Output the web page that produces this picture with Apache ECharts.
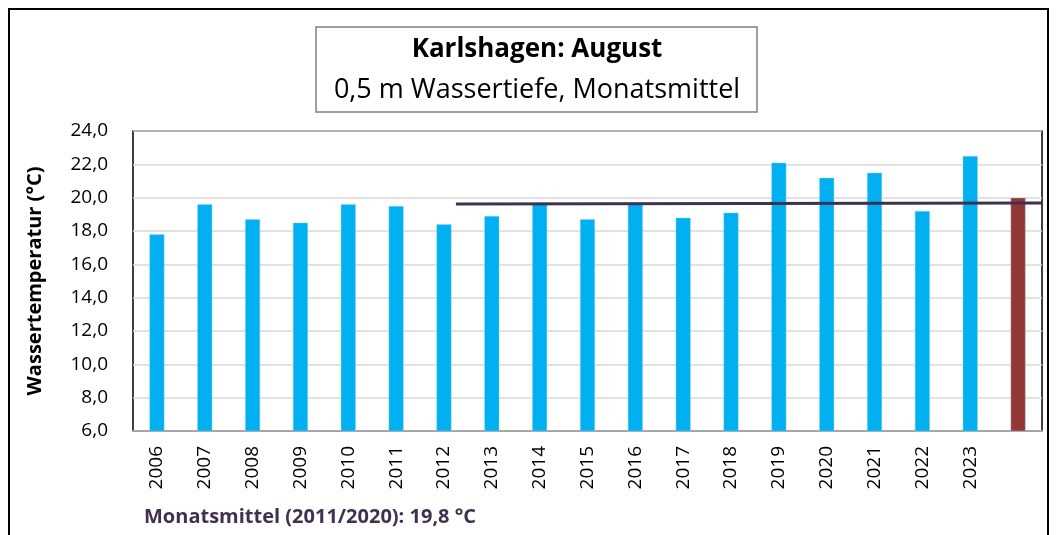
<!DOCTYPE html>
<html>
<head>
	<meta charset="utf-8">
	<title>Karlshagen August</title>
	<script src="https://cdn.jsdelivr.net/npm/echarts@6/dist/echarts.min.js"></script>
	<style>
		body { margin: 0; background: #fff; }
		#chart { width: 1056px; height: 535px; }
	</style>
</head>
<body>
	<div id="chart"></div>
	<script type="text/javascript">
	// Jahre und Monatsmittel der Wassertemperatur (0,5 m)
	var years = ['2006','2007','2008','2009','2010','2011','2012','2013','2014','2015',
		'2016','2017','2018','2019','2020','2021','2022','2023',''];
	var temps = [17.8, 19.6, 18.7, 18.5, 19.6, 19.5, 18.4, 18.9, 19.7, 18.7,
		19.6, 18.8, 19.1, 22.1, 21.2, 21.5, 19.2, 22.5, 20.0];
	// Mittelwertlinie (x in Kategorie-Index, y in °C)
	var meanLine = [[6.25, 19.62], [18.5, 19.68]];
	var yTicks = { min: 6, max: 24, step: 2 };

	var font = '"Open Sans", "Noto Sans", sans-serif';
	var chart = echarts.init(document.getElementById('chart'));

	var barData = temps.map(function (v, i) {
		return {
			value: v,
			itemStyle: { color: i === temps.length - 1 ? '#953735' : '#00B0F0' }
		};
	});

	chart.setOption({
		animation: false,
		graphic: [
			{ type: 'rect', shape: { x: 9, y: 9, width: 1039, height: 540 },
				style: { fill: 'none', stroke: '#000', lineWidth: 2 } },
			{ type: 'rect', shape: { x: 316, y: 27, width: 441, height: 85 },
				style: { fill: '#fff', stroke: '#808080', lineWidth: 1.5 } },
			{ type: 'text', x: 537, y: 50,
				style: { text: 'Karlshagen: August', font: 'bold 26px ' + font,
					fill: '#000', align: 'center', verticalAlign: 'middle' } },
			{ type: 'text', x: 537, y: 90,
				style: { text: '0,5 m Wassertiefe, Monatsmittel', font: '27px ' + font,
					fill: '#000', align: 'center', verticalAlign: 'middle' } },
			{ type: 'text', x: 144, y: 517,
				style: { text: 'Monatsmittel (2011/2020): 19,8 °C', font: 'bold 20px ' + font,
					fill: '#403152', verticalAlign: 'middle' } }
		],
		grid: {
			left: 133, right: 14, top: 131, bottom: 104,
			show: true, borderColor: '#000', borderWidth: 1.5, backgroundColor: 'transparent'
		},
		xAxis: [{
			type: 'category',
			data: years,
			axisLine: { lineStyle: { color: '#a6a6a6', width: 2 } },
			axisTick: { show: false },
			axisLabel: { rotate: 90, color: '#000', fontSize: 19, fontFamily: font, margin: 15 }
		}, {
			type: 'value',
			min: -0.5, max: 18.5,
			show: false
		}],
		yAxis: {
			type: 'value',
			min: yTicks.min, max: yTicks.max, interval: yTicks.step,
			name: 'Wassertemperatur (°C)',
			nameLocation: 'middle',
			nameGap: 88,
			nameTextStyle: { fontSize: 20, fontWeight: 'bold', color: '#000', fontFamily: font },
			axisLine: { show: false },
			axisTick: { show: false },
			axisLabel: {
				color: '#000', fontSize: 19, fontFamily: font, margin: 25,
				formatter: function (v) { return v.toFixed(1).replace('.', ','); }
			},
			splitLine: { lineStyle: { color: '#d9d9d9', width: 1.5 } }
		},
		series: [{
			type: 'bar',
			data: barData,
			barWidth: 15,
			itemStyle: { borderColor: 'rgba(150,220,245,0.8)', borderWidth: 0.5 }
		}, {
			type: 'line',
			xAxisIndex: 1,
			data: meanLine,
			symbol: 'none',
			lineStyle: { color: '#403152', width: 3 },
			z: 5
		}]
	});
	</script>
</body>
</html>
